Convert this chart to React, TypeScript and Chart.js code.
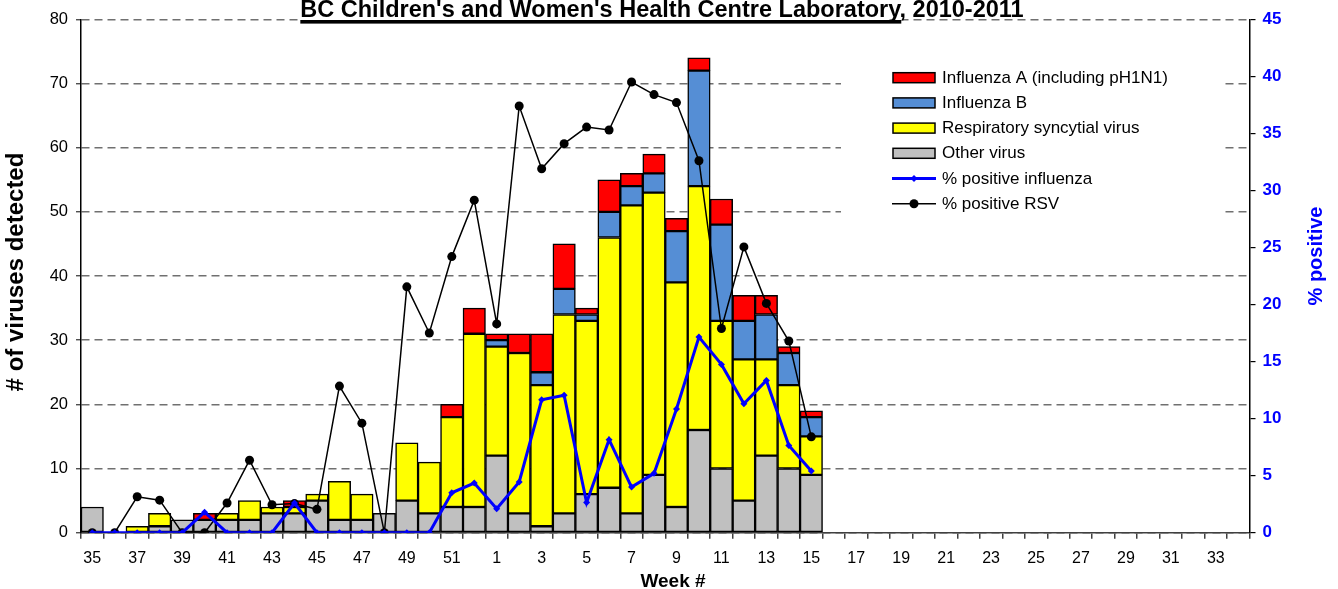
import React, { useEffect, useRef } from "react";
import { Chart, registerables } from "chart.js";

Chart.register(...registerables);

const FONT = "'Liberation Sans', Arial, Helvetica, sans-serif";

// Categories: epidemiological weeks 35-52 (2010) and 1-34 (2011)
const weeks: string[] = [
  "35", "36", "37", "38", "39", "40", "41", "42", "43", "44", "45", "46", "47", "48", "49", "50", "51", "52",
  "1", "2", "3", "4", "5", "6", "7", "8", "9", "10", "11", "12", "13", "14", "15", "16", "17",
  "18", "19", "20", "21", "22", "23", "24", "25", "26", "27", "28", "29", "30", "31", "32", "33", "34",
];

// Counts per week (weeks 35 .. 15 have data)
const otherVirus = [4, 0, 0, 1, 2, 2, 2, 2, 3, 3, 5, 2, 2, 3, 5, 3, 4, 4, 12, 3, 1, 3, 6, 7, 3, 9, 4, 16, 10, 5, 12, 10, 9];
const rsv = [0, 0, 1, 2, 0, 0, 1, 3, 1, 1, 1, 6, 4, 0, 9, 8, 14, 27, 17, 25, 22, 31, 27, 39, 48, 44, 35, 38, 23, 22, 15, 13, 6];
const influenzaB = [0, 0, 0, 0, 0, 0, 0, 0, 0, 0, 0, 0, 0, 0, 0, 0, 0, 0, 1, 0, 2, 4, 1, 4, 3, 3, 8, 18, 15, 6, 7, 5, 3];
const influenzaA = [0, 0, 0, 0, 0, 1, 0, 0, 0, 1, 0, 0, 0, 0, 0, 0, 2, 4, 1, 3, 6, 7, 1, 5, 2, 3, 2, 2, 4, 4, 3, 1, 1];

// Percent positive (right axis)
const pctInfluenza = [0, 0, 0, 0, 0, 1.8, 0, 0, 0, 2.6, 0, 0, 0, 0, 0, 0, 3.5, 4.35, 2.1, 4.45, 11.65, 12.05, 2.65, 8.15, 4.0, 5.2, 10.85, 17.15, 14.75, 11.3, 13.35, 7.65, 5.4];
const pctRsv = [0, 0, 3.15, 2.85, 0, 0, 2.6, 6.35, 2.45, 2.55, 2.05, 12.85, 9.6, 0, 21.55, 17.5, 24.2, 29.15, 18.3, 37.4, 31.9, 34.1, 35.55, 35.3, 39.5, 38.4, 37.7, 32.6, 17.9, 25.05, 20.1, 16.8, 8.4];

const leftMax = 80;
const leftStep = 10;
const rightMax = 45;
const rightStep = 5;

const titleMain = "BC Children's and Women's Health Centre Laboratory";
const titleSuffix = ", 2010-2011";

const padBars = (arr: number[]) => weeks.map((_, i) => (i < arr.length && arr[i] !== 0 ? arr[i] : null));
const padLine = (arr: number[]) => weeks.map((_, i) => (i < arr.length ? arr[i] : null));

const legendOrder = [3, 2, 1, 0, 4, 5];

const overlayPlugin = {
  id: "overlay",
  afterDraw(chart: any) {
    const ctx: CanvasRenderingContext2D = chart.ctx;
    ctx.save();

    // Title
    ctx.font = `bold 23.5px ${FONT}`;
    ctx.textBaseline = "alphabetic";
    ctx.textAlign = "left";
    const full = titleMain + titleSuffix;
    const fullW = ctx.measureText(full).width;
    const mainW = ctx.measureText(titleMain).width;
    const cx = 662;
    const tx = cx - fullW / 2;
    ctx.fillStyle = "#ffffff";
    ctx.fillRect(tx - 1, 0, mainW + 2, 24);
    ctx.fillStyle = "#000000";
    ctx.fillText(full, tx, 16.7);
    ctx.fillRect(tx, 20, mainW, 3.6);

    // Left axis title
    ctx.save();
    ctx.translate(16.7, 272);
    ctx.rotate(-Math.PI / 2);
    ctx.font = `bold 24px ${FONT}`;
    ctx.textAlign = "center";
    ctx.textBaseline = "middle";
    ctx.fillStyle = "#000000";
    ctx.fillText("# of viruses detected", 0, 0);
    ctx.restore();

    // Right axis title
    ctx.save();
    ctx.translate(1316, 256);
    ctx.rotate(-Math.PI / 2);
    ctx.font = `bold 20px ${FONT}`;
    ctx.textAlign = "center";
    ctx.textBaseline = "middle";
    ctx.fillStyle = "#0000FF";
    ctx.fillText("% positive", 0, 0);
    ctx.restore();

    // X axis title
    ctx.font = `bold 19px ${FONT}`;
    ctx.textAlign = "center";
    ctx.textBaseline = "middle";
    ctx.fillStyle = "#000000";
    ctx.fillText("Week #", 673, 581.5);

    // Legend
    ctx.fillStyle = "#ffffff";
    ctx.fillRect(841, 58, 380, 170);
    const ds = chart.data.datasets;
    legendOrder.forEach((di, i) => {
      const d = ds[di];
      const y = 77.7 + i * 25.2;
      if (d.type === "line") {
        ctx.strokeStyle = d.borderColor;
        ctx.lineWidth = d.borderWidth;
        ctx.beginPath();
        ctx.moveTo(892, y);
        ctx.lineTo(936, y);
        ctx.stroke();
        ctx.fillStyle = d.pointBackgroundColor;
        const r = d.pointRadius;
        ctx.beginPath();
        if (d.pointStyle === "rectRot") {
          ctx.moveTo(914, y - r);
          ctx.lineTo(914 + r, y);
          ctx.lineTo(914, y + r);
          ctx.lineTo(914 - r, y);
          ctx.closePath();
        } else {
          ctx.arc(914, y, r, 0, Math.PI * 2);
        }
        ctx.fill();
      } else {
        ctx.fillStyle = d.backgroundColor;
        ctx.fillRect(893, y - 5, 42, 10);
        ctx.strokeStyle = "#000000";
        ctx.lineWidth = 1.5;
        ctx.strokeRect(893, y - 5, 42, 10);
      }
      ctx.font = `17px ${FONT}`;
      ctx.textAlign = "left";
      ctx.textBaseline = "middle";
      ctx.fillStyle = "#000000";
      ctx.fillText(d.label, 942, y + 0.5);
    });

    ctx.restore();
  },
};

export default function App() {
  const ref = useRef<HTMLCanvasElement | null>(null);

  useEffect(() => {
    document.body.style.margin = "0";
    const canvas = ref.current;
    if (!canvas) return;
    const barCommon = {
      type: "bar" as const,
      yAxisID: "y",
      borderColor: "#000000",
      borderWidth: 1.5,
      borderSkipped: false as const,
      categoryPercentage: 1,
      barPercentage: 1,
      order: 2,
      stack: "v",
    };
    const chart = new Chart(canvas, {
      type: "bar",
      data: {
        labels: weeks,
        datasets: [
          { ...barCommon, label: "Other virus", data: padBars(otherVirus), backgroundColor: "#C0C0C0" },
          { ...barCommon, label: "Respiratory syncytial virus", data: padBars(rsv), backgroundColor: "#FFFF00" },
          { ...barCommon, label: "Influenza B", data: padBars(influenzaB), backgroundColor: "#558ED5" },
          { ...barCommon, label: "Influenza A (including pH1N1)", data: padBars(influenzaA), backgroundColor: "#FF0000" },
          {
            type: "line",
            label: "% positive influenza",
            data: padLine(pctInfluenza),
            yAxisID: "y1",
            borderColor: "#0000FF",
            backgroundColor: "#0000FF",
            borderWidth: 3,
            pointStyle: "rectRot",
            pointRadius: 3.5,
            pointBackgroundColor: "#0000FF",
            pointBorderColor: "#0000FF",
            pointBorderWidth: 0,
            tension: 0,
            fill: false,
            order: 0,
            spanGaps: false,
          } as any,
          {
            type: "line",
            label: "% positive RSV",
            data: padLine(pctRsv),
            yAxisID: "y1",
            borderColor: "#000000",
            backgroundColor: "#000000",
            borderWidth: 1.5,
            pointStyle: "circle",
            pointRadius: 4.5,
            pointBackgroundColor: "#000000",
            pointBorderColor: "#000000",
            pointBorderWidth: 0,
            tension: 0,
            fill: false,
            order: 1,
            spanGaps: false,
          } as any,
        ],
      },
      options: {
        animation: false,
        responsive: false,
        devicePixelRatio: 1,
        layout: { padding: { top: 19.3, left: 0, right: 0, bottom: 0 } },
        plugins: {
          legend: { display: false },
          title: { display: false },
          tooltip: { enabled: false },
        },
        scales: {
          x: {
            stacked: true,
            offset: true,
            afterFit: (s: any) => {
              s.height = 589 - 532.7;
            },
            grid: {
              offset: true,
              drawOnChartArea: false,
              drawTicks: true,
              tickLength: 6,
              color: "#404040",
              lineWidth: 1.5,
            },
            border: { display: true, color: "#404040", width: 1.5 },
            ticks: {
              autoSkip: false,
              maxRotation: 0,
              minRotation: 0,
              padding: 10,
              color: "#000000",
              font: { family: FONT, size: 16 },
              callback: (_v: any, i: number) => (i % 2 === 0 ? weeks[i] : ""),
            },
          },
          y: {
            type: "linear",
            position: "left",
            stacked: true,
            min: 0,
            max: leftMax,
            afterFit: (s: any) => {
              s.width = 81;
            },
            grid: {
              drawOnChartArea: true,
              drawTicks: true,
              tickLength: 5,
              color: "#707070",
              lineWidth: 1.5,
              tickColor: "#303030",
              tickWidth: 1.2,
            },
            border: { display: true, color: "#000000", width: 1.5, dash: [8, 5] },
            ticks: {
              stepSize: leftStep,
              padding: 8,
              color: "#000000",
              font: { family: FONT, size: 16.5 },
            },
          },
          y1: {
            type: "linear",
            position: "right",
            min: 0,
            max: rightMax,
            afterFit: (s: any) => {
              s.width = 1338 - 1249.5;
            },
            grid: {
              drawOnChartArea: false,
              drawTicks: true,
              tickLength: 6,
              color: "#000000",
              lineWidth: 1.2,
            },
            border: { display: true, color: "#000000", width: 1.5 },
            ticks: {
              stepSize: rightStep,
              padding: 7,
              color: "#0000FF",
              font: { family: FONT, size: 17, weight: "bold" },
            },
          },
        },
      },
      plugins: [overlayPlugin],
    });
    return () => chart.destroy();
  }, []);

  return (
    <div style={{ width: 1338, height: 589 }}>
      <canvas ref={ref} width={1338} height={589} style={{ display: "block", width: 1338, height: 589 }} />
    </div>
  );
}
